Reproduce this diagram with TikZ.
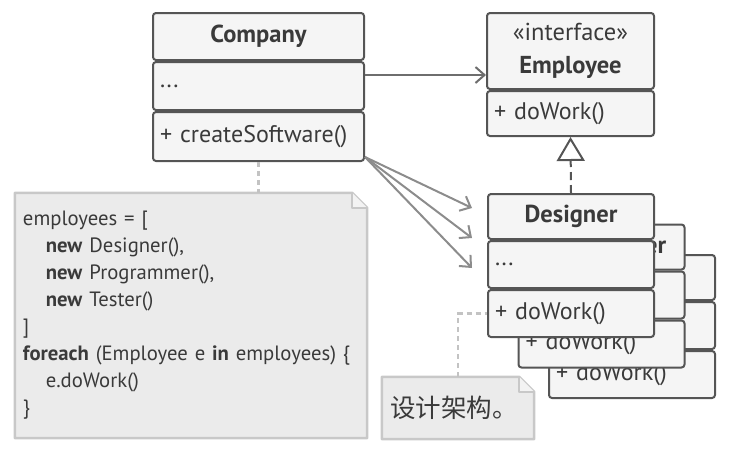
\documentclass[tikz,border=0pt]{standalone}
\usepackage{fontspec}
\setmainfont{PT Sans}
\newfontfamily\cjkfont{Noto Sans CJK SC}
\usetikzlibrary{positioning,arrows.meta,calc,backgrounds}

\definecolor{umlline}{HTML}{555555}
\definecolor{umlfill}{HTML}{F5F5F5}
\definecolor{umltext}{HTML}{3A3A3A}
\definecolor{assocgray}{HTML}{6E6E6E}
\definecolor{depgray}{HTML}{8C8C8C}
\definecolor{notefill}{HTML}{EBEBEB}
\definecolor{noteline}{HTML}{C8C8C8}

\tikzset{
  box/.style={draw=umlline, fill=umlfill, line width=2pt, rounded corners=3pt,
    inner xsep=7pt, inner ysep=0pt, text=umltext, font=\fontsize{24}{33}\selectfont},
  head/.style={box, align=center, font=\fontsize{24.5}{33}\selectfont\bfseries},
  body/.style={box, text width=#1, align=left},
  assoc/.style={draw=assocgray, line width=2pt, -{Straight Barb[length=9pt,width=16pt,line width=2pt]}},
  dep/.style={draw=depgray, line width=2pt, -{Straight Barb[length=9pt,width=16pt,line width=2pt]}},
  realize/.style={draw=umlline, line width=2pt, dash pattern=on 8pt off 5pt,
    -{Triangle[open,length=24pt,width=28pt,line width=2pt]}},
  notebox/.style={draw=noteline, fill=notefill, line width=2.5pt, line join=round},
  noteline/.style={draw=noteline!85!black!70, line width=2.5pt, dash pattern=on 5pt off 4pt},
}

\begin{document}
\begin{tikzpicture}[x=1pt, y=-1pt]
  \useasboundingbox (0,0) rectangle (729,448);

  % Company
  \node[head, minimum width=211pt, minimum height=47pt] (comp-head) at (258.5,36.5) {Company};
  \node[body=197pt, minimum height=48pt, below=0pt of comp-head] (comp-attr) {...};
  \node[body=197pt, minimum height=49pt, below=0pt of comp-attr] (comp-meth) {+ createSoftware()};

  % Employee interface
  \node[head, minimum width=167pt, minimum height=76pt] (emp-head) at (570.5,51)
    {{\mdseries «interface»}\\Employee};
  \node[body=153pt, minimum height=45pt, below=0pt of emp-head] (emp-meth) {+ doWork()};

  % Tester
  \node[head, minimum width=166pt, minimum height=45pt] (tes-head) at (632,277.5) {Tester};
  \node[body=152pt, minimum height=47pt, below=0pt of tes-head] (tes-attr) {...};
  \node[body=152pt, minimum height=47pt, below=0pt of tes-attr] (tes-meth) {+ doWork()};

  % Programmer
  \node[head, minimum width=166pt, minimum height=45pt] (pro-head) at (601.5,247) {Programmer};
  \node[body=152pt, minimum height=47pt, below=0pt of pro-head] (pro-attr) {...};
  \node[body=152pt, minimum height=47pt, below=0pt of pro-attr] (pro-meth) {+ doWork()};

  % Designer
  \node[head, minimum width=166pt, minimum height=45pt] (des-head) at (571,216.5) {Designer};
  \node[body=152pt, minimum height=47pt, below=0pt of des-head] (des-attr) {...};
  \node[body=152pt, minimum height=47pt, below=0pt of des-attr] (des-meth) {+ doWork()};

  % Notes
  \node[text width=336pt, inner xsep=8pt, minimum height=245pt, align=left, text=umltext,
    font=\fontsize{20.7}{27}\selectfont] (code) at (191,315.5) {%
    employees = [\\
    \hspace*{1.1em}\textbf{new} Designer(),\\
    \hspace*{1.1em}\textbf{new} Programmer(),\\
    \hspace*{1.1em}\textbf{new} Tester()\\
    ]\\
    \textbf{foreach} (Employee e \textbf{in} employees) \{\\
    \hspace*{1.1em}e.doWork()\\
    \}};
  \node[text width=136pt, inner xsep=8pt, minimum height=62pt, align=left, text=umltext,
    font=\cjkfont\fontsize{25.5}{30}\selectfont] (arch) at (458,408) {设计架构。};

  \begin{scope}[on background layer]
    \filldraw[notebox] (code.north west) -- ([xshift=-15pt]code.north east)
      -- ([yshift=-15pt]code.north east) -- (code.south east) -- (code.south west) -- cycle;
    \draw[notebox, fill=notefill!60!white] ([xshift=-15pt]code.north east) |- ([yshift=-15pt]code.north east);
    \filldraw[notebox] (arch.north west) -- ([xshift=-15pt]arch.north east)
      -- ([yshift=-15pt]arch.north east) -- (arch.south east) -- (arch.south west) -- cycle;
    \draw[notebox, fill=notefill!60!white] ([xshift=-15pt]arch.north east) |- ([yshift=-15pt]arch.north east);
  \end{scope}

  % Arrows
  \draw[assoc] ([yshift=11pt]comp-attr.east) -- ([yshift=11pt]comp-attr.east -| emp-head.west);
  \draw[realize] (des-head.north) -- (emp-meth.south);

  \coordinate (to-des) at (472,208);
  \coordinate (to-pro) at (472,238);
  \coordinate (to-tes) at (472,268);
  \draw[dep] ([yshift=5pt]comp-meth.south east) -- (to-des);
  \draw[dep] ([yshift=5pt]comp-meth.south east) -- (to-pro);
  \draw[dep] ([yshift=5pt]comp-meth.south east) -- (to-tes);

  \draw[noteline] (comp-meth.south) -- (comp-meth.south |- code.north);
  \draw[noteline] (arch.north) |- (des-meth.west);
\end{tikzpicture}
\end{document}
